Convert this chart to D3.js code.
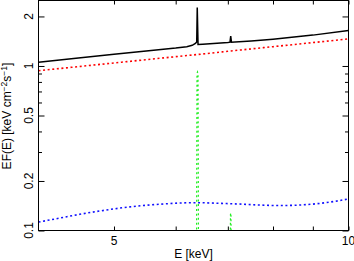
<!DOCTYPE html>
<html>
<head>
<meta charset="utf-8">
<script src="https://cdn.jsdelivr.net/npm/d3@7"></script>
<style>
  body { margin: 0; background: #fff; }
  svg { display: block; font-family: "Liberation Sans", Arial, sans-serif; }
</style>
</head>
<body>
<div id="chart"></div>
<script>
// values (keV, keV cm^-2 s^-1)
var plE   = [4.0, 4.5, 5.0, 5.5, 6.0, 6.5, 7.0, 7.5, 8.0, 9.0, 10.0];
var plVal = [0.936, 0.991, 1.043, 1.092, 1.139, 1.183, 1.228, 1.27, 1.31, 1.387, 1.46];

var reflE   = [4.0, 4.26, 4.52, 4.8, 5.24, 5.73, 6.35, 7.05, 8.17, 9.2, 10.0];
var reflVal = [0.1125, 0.119, 0.1255, 0.1315, 0.1392, 0.1445, 0.1476, 0.1455, 0.1418, 0.1462, 0.1555];

var totE   = [4.0, 4.5, 5.0, 5.5, 6.0, 6.2, 6.3, 6.36, 6.385, 6.395, 6.41, 6.5, 7.0, 7.045, 7.06, 7.075, 7.5, 8.0, 9.0, 10.0];
var totVal = [1.053, 1.118, 1.179, 1.235, 1.285, 1.31, 1.335, 1.37, 1.40, 2.27, 1.35, 1.355, 1.39, 1.395, 1.52, 1.395, 1.42, 1.455, 1.54, 1.645];

var kaE   = [6.38, 6.39, 6.40, 6.41, 6.42];
var kaVal = [0.05, 0.9, 0.92, 0.9, 0.05];
var kbE   = [7.045, 7.055, 7.06, 7.065, 7.075];
var kbVal = [0.05, 0.125, 0.128, 0.125, 0.05];

var xTicks = [5, 6, 7, 8, 9, 10];
var xLabels = [5, 10];
var yMajor = [0.1, 0.2, 0.5, 1, 2];
var yMinor = [0.3, 0.4, 0.6, 0.7, 0.8, 0.9];

var W = 354, H = 261;
var L = 38.5, R = 348.5, T = 0.5, B = 230.5;

var svg = d3.select("#chart").append("svg").attr("width", W).attr("height", H);

var x = d3.scaleLog().domain([4, 10]).range([L, R]);
var y = d3.scaleLog().domain([0.1, 2.5]).range([B, T]);

svg.append("clipPath").attr("id", "clip")
  .append("rect").attr("x", L).attr("y", T).attr("width", R - L).attr("height", B - T);

// ticks (inward, on all four sides)
function tickAxis(axis, tx, ty) {
  var g = svg.append("g").attr("transform", "translate(" + tx + "," + ty + ")").call(axis);
  g.select(".domain").remove();
  g.selectAll("line").attr("stroke", "#000");
  return g;
}
tickAxis(d3.axisBottom(x).tickValues(xTicks).tickSize(-4).tickFormat(""), 0, B);
tickAxis(d3.axisTop(x).tickValues(xTicks).tickSize(-4).tickFormat(""), 0, T);
tickAxis(d3.axisLeft(y).tickValues(yMajor).tickSize(-6).tickFormat(""), L, 0);
tickAxis(d3.axisLeft(y).tickValues(yMinor).tickSize(-3.5).tickFormat(""), L, 0);
tickAxis(d3.axisRight(y).tickValues(yMajor).tickSize(-6).tickFormat(""), R, 0);
tickAxis(d3.axisRight(y).tickValues(yMinor).tickSize(-3.5).tickFormat(""), R, 0);

// tick labels
svg.append("g").selectAll("text").data(xLabels).enter().append("text")
  .attr("x", function(d) { return x(d); })
  .attr("y", 245)
  .attr("text-anchor", "middle")
  .attr("font-size", 12)
  .text(function(d) { return d; });

svg.append("g").selectAll("text").data(yMajor).enter().append("text")
  .attr("transform", function(d) { return "translate(33," + y(d) + ") rotate(-90)"; })
  .attr("text-anchor", "middle")
  .attr("font-size", 12)
  .text(function(d) { return d; });

// axis titles
svg.append("text").attr("x", 193.5).attr("y", 257.5)
  .attr("text-anchor", "middle").attr("font-size", 12).text("E [keV]");

var yl = svg.append("text").attr("transform", "translate(11,116) rotate(-90)")
  .attr("text-anchor", "middle").attr("font-size", 12);
yl.append("tspan").text("EF(E) [keV cm");
yl.append("tspan").attr("font-size", 8.5).attr("dy", -4).text("\u22122");
yl.append("tspan").attr("dy", 4).text("s");
yl.append("tspan").attr("font-size", 8.5).attr("dy", -4).text("\u22121");
yl.append("tspan").attr("dy", 4).text("]");

// curves
var plot = svg.append("g").attr("clip-path", "url(#clip)");
function curve(es, vs, color, width, dotted, kind) {
  var pts = es.map(function(e, i) { return [e, vs[i]]; });
  var line = d3.line()
    .x(function(d) { return x(d[0]); })
    .y(function(d) { return y(d[1]); })
    .curve(kind || d3.curveLinear);
  var p = plot.append("path").datum(pts)
    .attr("d", line)
    .attr("fill", "none")
    .attr("stroke", color)
    .attr("stroke-width", width);
  if (dotted) p.attr("stroke-dasharray", "2,2.6");
}
curve(plE, plVal, "#ff0000", 1.6, true, d3.curveMonotoneX);
curve(reflE, reflVal, "#1010ff", 1.6, true, d3.curveMonotoneX);
curve(kaE, kaVal, "#22ee22", 1.2, true);
curve(kbE, kbVal, "#22ee22", 1.2, true);
curve(totE, totVal, "#000", 1.5, false);

// frame
svg.append("rect").attr("x", L).attr("y", T).attr("width", R - L).attr("height", B - T)
  .attr("fill", "none").attr("stroke", "#000").attr("stroke-width", 1);
</script>
</body>
</html>
